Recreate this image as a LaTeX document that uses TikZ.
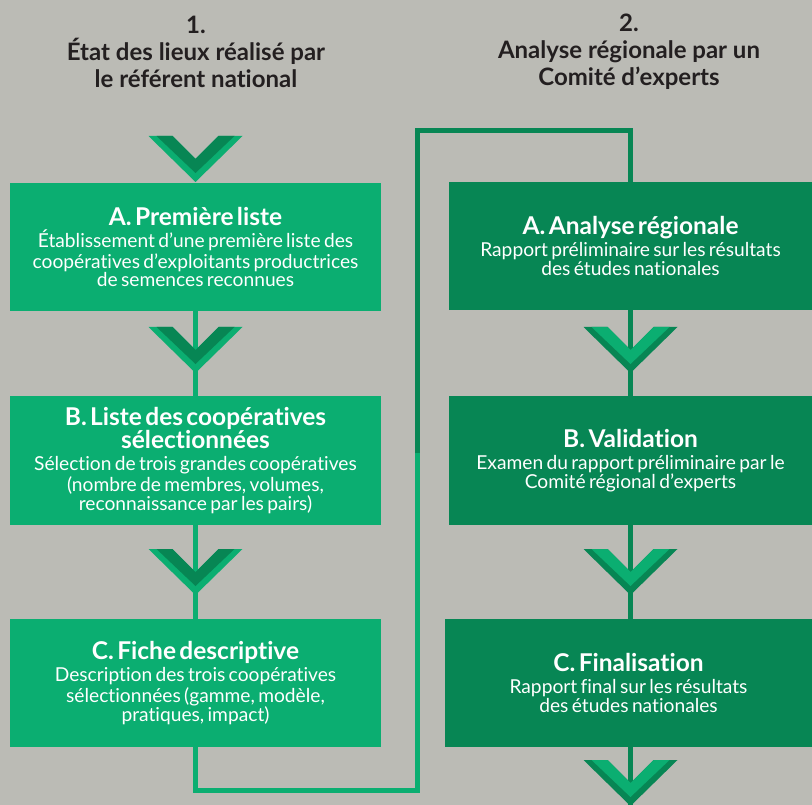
\documentclass[tikz,border=0pt]{standalone}
\usepackage{fontspec}
\setmainfont{Lato}[Ligatures=NoCommon]
\definecolor{paper}{HTML}{BBBBB5}
\definecolor{greenL}{HTML}{0BAE71}
\definecolor{greenD}{HTML}{078654}
\definecolor{ink}{HTML}{231F20}
\newcommand{\boxtitle}{\fontsize{24.5}{28}\selectfont\bfseries}
\newcommand{\boxbody}{\par\vskip 1.3pt\fontsize{19.2}{20.9}\selectfont\mdseries}
\begin{document}
\begin{tikzpicture}[x=1pt,y=-1pt,
  head/.style={align=center, inner sep=0pt, text=ink,
    font=\fontsize{24}{27}\selectfont\bfseries},
  stage/.style={inner sep=0pt, text=white, align=center, text width=360pt,
    minimum height=128pt},
  stageL/.style={stage, fill=greenL, minimum width=371pt},
  stageR/.style={stage, fill=greenD},
  linkL/.style={draw=greenL, line width=5pt},
  linkD/.style={draw=greenD, line width=5pt},
  chevL/.pic={
    \fill[greenL] (-47,0) -- (0,46) -- (47,0) -- (23,0) -- (0,23) -- (-23,0) -- cycle;
    \fill[greenD] (-39,0) -- (0,37) -- (39,0) -- (23,0) -- (0,23) -- (-23,0) -- cycle;
  },
  chevR/.pic={
    \fill[greenD] (-47,0) -- (0,46) -- (47,0) -- (23,0) -- (0,23) -- (-23,0) -- cycle;
    \fill[greenL] (-39,0) -- (0,37) -- (39,0) -- (23,0) -- (0,23) -- (-23,0) -- cycle;
  }]
\useasboundingbox (0,0) rectangle (812,805);
\fill[paper] (0,0) rectangle (812,805);

% column headings
\node[head] (h1) at (196,52) {1.\\État des lieux réalisé par\\le référent national};
\node[head] (h2) at (629,52) {2.\\Analyse régionale par un\\Comité d’experts};

% national steps
\node[stageL] (a1) at (195.5,247) {{\boxtitle A. Première liste}\boxbody
  Établissement d’une première liste des\\coopératives d’exploitants productrices\\de semences reconnues};
\node[stageL, minimum height=129pt] (b1) at (195.5,460.5) {{\boxtitle B. Liste des coopératives\\sélectionnées}\boxbody
  Sélection de trois grandes coopératives\\(nombre de membres, volumes,\\reconnaissance par les pairs)};
\node[stageL] (c1) at (195.5,683) {{\boxtitle C. Fiche descriptive}\boxbody
  Description des trois coopératives\\sélectionnées (gamme, modèle,\\pratiques, impact)};

% regional steps
\node[stageR, minimum width=363pt] (a2) at (630.5,246) {{\boxtitle A. Analyse régionale}\boxbody
  Rapport préliminaire sur les résultats\\des études nationales};
\node[stageR, minimum width=363pt, minimum height=129pt] (b2) at (630.5,460.5) {{\boxtitle B. Validation}\boxbody
  Examen du rapport préliminaire par le\\Comité régional d’experts};
\node[stageR, minimum width=367pt] (c2) at (628.5,683) {{\boxtitle C. Finalisation}\boxbody
  Rapport final sur les résultats\\des études nationales};

% links inside each column
\draw[linkL] (a1.south) -- (b1.north);
\draw[linkL] (b1.south) -- (c1.north);
\draw[linkD] (a2.south) -- (b2.north);
\draw[linkD] (b2.south) -- (b2.south |- c2.north);
\coordinate (tail) at (630.5,812);
\draw[linkD] (b2.south |- c2.south) -- (tail);

% hand-over from the national column to the regional one
\coordinate (k0) at (417.5,790);
\coordinate (k1) at (417.5,453);
\coordinate (k2) at (417.5,130.5);
\draw[linkL] (c1.south) |- (k0) -- (k1);
\draw[linkD] (k1) -- (k2) -| (a2.north);

% chevrons
\pic at (195.5,136) {chevL};
\pic at (195.5,327) {chevL};
\pic at (195.5,549) {chevL};
\pic at (630.5,327) {chevR};
\pic at (630.5,549) {chevR};
\pic at (630.5,760) {chevR};
\end{tikzpicture}
\end{document}
